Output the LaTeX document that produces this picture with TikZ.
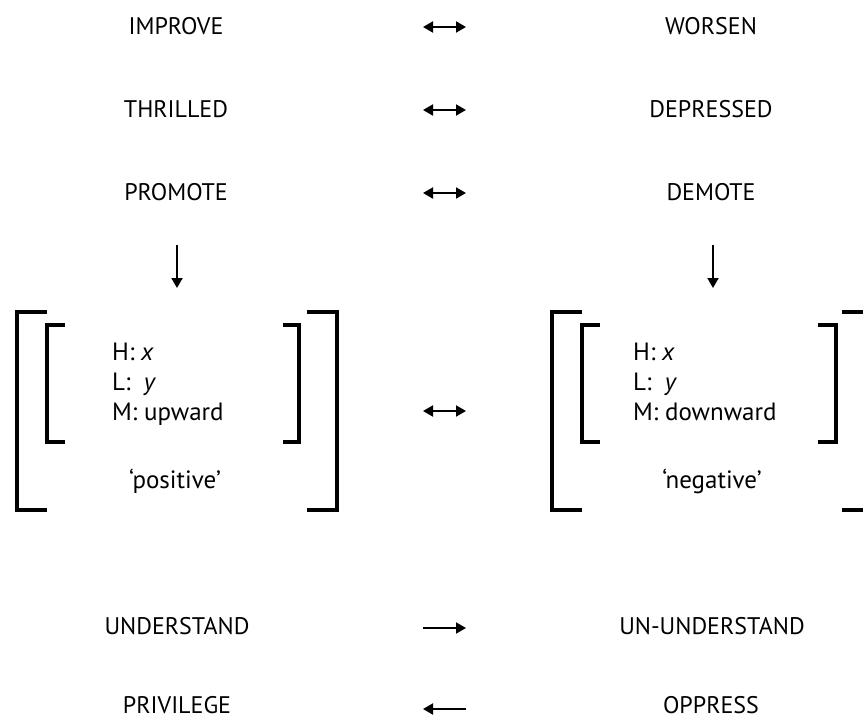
\documentclass[tikz,border=0pt]{standalone}
\usepackage{fontspec}
\setmainfont{PT Sans}
\usetikzlibrary{arrows.meta}
\begin{document}
\begin{tikzpicture}[x=1pt,y=-1pt,
  word/.style={font=\fontsize{24}{28}\selectfont, inner sep=0pt, anchor=center},
  feat/.style={font=\fontsize{25}{28}\selectfont, inner sep=0pt, anchor=base west},
  gloss/.style={font=\fontsize{25}{28}\selectfont, inner sep=0pt, anchor=base},
  rel/.style={line width=1.9pt, -{Triangle[length=10pt,width=11pt]}},
  birel/.style={line width=1.9pt, {Triangle[length=10pt,width=11pt]}-{Triangle[length=10pt,width=11pt]}},
  brk/.style={line width=3.5pt, line join=miter, line cap=butt}
]
\useasboundingbox (0,0) rectangle (863,718);
\clip (0,0) rectangle (863,718);

% top rows
\node[word] (improve) at (176,26) {IMPROVE};
\node[word] (worsen) at (711,26) {WORSEN};
\node[word] (thrilled) at (176,109) {THRILLED};
\node[word] (depressed) at (711,109) {DEPRESSED};
\node[word] (promote) at (176,192) {PROMOTE};
\node[word] (demote) at (711,192) {DEMOTE};

\coordinate (r1a) at (423,27);  \coordinate (r1b) at (466,27);
\coordinate (r2a) at (423,110); \coordinate (r2b) at (466,110);
\coordinate (r3a) at (423,193); \coordinate (r3b) at (466,193);
\draw[birel] (r1a) -- (r1b);
\draw[birel] (r2a) -- (r2b);
\draw[birel] (r3a) -- (r3b);

% down arrows
\coordinate (dla) at (177,245); \coordinate (dlb) at (177,288);
\coordinate (dra) at (713,245); \coordinate (drb) at (713,288);
\draw[rel] (dla) -- (dlb);
\draw[rel] (dra) -- (drb);

% left brackets
\draw[brk] (47,312) -- (17,312) -- (17,510) -- (47,510);
\draw[brk] (65,325) -- (47,325) -- (47,442) -- (65,442);
\draw[brk] (283,325) -- (299,325) -- (299,442) -- (283,442);
\draw[brk] (307,312) -- (337,312) -- (337,510) -- (307,510);

\node[feat] (lh) at (112,360) {H: \textit{x}};
\node[feat] (ll) at (112,390) {L:\ \ \textit{y}};
\node[feat] (lm) at (112,420) {M: upward};
\node[gloss] (lpos) at (175,488) {`positive'};

% right brackets
\draw[brk] (582,312) -- (552,312) -- (552,510) -- (582,510);
\draw[brk] (600,325) -- (582,325) -- (582,442) -- (600,442);
\draw[brk] (818,325) -- (836,325) -- (836,442) -- (818,442);
\draw[brk] (842,312) -- (880,312) -- (880,510) -- (842,510);

\node[feat] (rh) at (633,360) {H: \textit{x}};
\node[feat] (rl) at (633,390) {L:\ \ \textit{y}};
\node[feat] (rm) at (633,420) {M: downward};
\node[gloss] (rneg) at (712,488) {`negative'};

\coordinate (mida) at (423,411); \coordinate (midb) at (466,411);
\draw[birel] (mida) -- (midb);

% bottom rows
\node[word] (understand) at (177,626) {UNDERSTAND};
\node[word] (ununderstand) at (712,626) {UN-UNDERSTAND};
\node[word] (privilege) at (177,705) {PRIVILEGE};
\node[word] (oppress) at (711,705) {OPPRESS};

\coordinate (b1a) at (423,628); \coordinate (b1b) at (466,628);
\coordinate (b2a) at (466,709); \coordinate (b2b) at (423,709);
\draw[rel] (b1a) -- (b1b);
\draw[rel] (b2a) -- (b2b);
\end{tikzpicture}
\end{document}
